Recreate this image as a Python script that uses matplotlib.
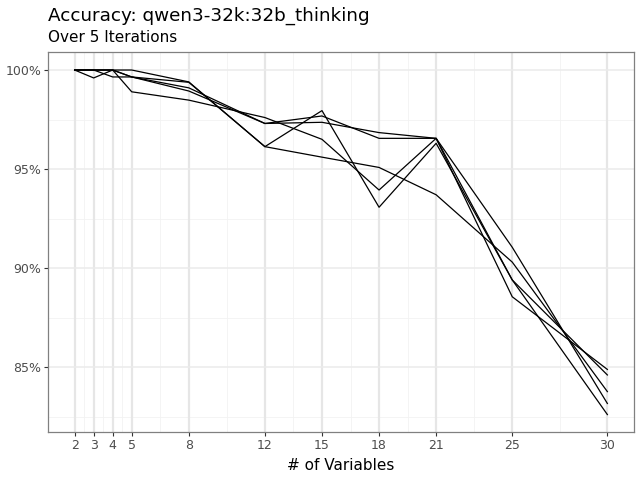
import matplotlib
matplotlib.use("Agg")
import matplotlib.pyplot as plt
from matplotlib.ticker import FixedLocator, FuncFormatter

variables = [2, 3, 4, 5, 8, 12, 15, 18, 21, 25, 30]

# accuracy (%) per iteration
iter_1 = [100, 100, 100, 100, 99.40, 96.13, 97.95, 93.07, 96.30, 89.40, 82.60]
iter_2 = [100, 99.60, 100, 99.65, 99.38, 96.13, 95.60, 95.08, 93.70, 90.30, 83.76]
iter_3 = [100, 100, 99.65, 99.65, 99.10, 97.30, 97.68, 96.55, 96.55, 91.05, 83.16]
iter_4 = [100, 100, 100, 99.65, 98.94, 97.30, 97.36, 96.84, 96.55, 89.40, 84.60]
iter_5 = [100, 100, 100, 98.90, 98.48, 97.60, 96.50, 93.94, 96.55, 88.55, 84.88]

series = [iter_1, iter_2, iter_3, iter_4, iter_5]

x_breaks = [2, 3, 4, 5, 8, 12, 15, 18, 21, 25, 30]
y_breaks = [85, 90, 95, 100]

fig = plt.figure(figsize=(6.4, 4.8), dpi=100)
ax = fig.add_axes([48/640, 48/480, 586/640, 380/480])

for s in series:
    ax.plot(variables, s, color="black", lw=0.9, zorder=3)

ax.set_xlim(0.6, 31.4)
ax.set_ylim(81.72, 100.91)

# grid
minor_x = [(a + b) / 2 for a, b in zip(x_breaks[:-1], x_breaks[1:])]
minor_y = [(a + b) / 2 for a, b in zip(y_breaks[:-1], y_breaks[1:])] + [82.5]
for xv in minor_x:
    ax.axvline(xv, color="#F2F2F2", lw=0.6, zorder=1)
for yv in minor_y:
    ax.axhline(yv, color="#F2F2F2", lw=0.6, zorder=1)
for xv in x_breaks:
    ax.axvline(xv, color="#E6E6E6", lw=1.6, zorder=1)
for yv in y_breaks:
    ax.axhline(yv, color="#EBEBEB", lw=1.1, zorder=1)

ax.xaxis.set_major_locator(FixedLocator(x_breaks))
ax.yaxis.set_major_locator(FixedLocator(y_breaks))
ax.yaxis.set_major_formatter(FuncFormatter(lambda v, p: f"{v:.0f}%"))
ax.tick_params(axis="both", length=3, width=0.8, color="#333333",
               labelcolor="#4D4D4D", labelsize=9, pad=2)

for sp in ax.spines.values():
    sp.set_color("#808080")
    sp.set_linewidth(0.9)

ax.set_xlabel("# of Variables", fontsize=11, color="black", labelpad=4)

fig.text(48/640, 1 - 16/480, "Accuracy: qwen3-32k:32b_thinking", fontsize=13.2,
         ha="left", va="center")
fig.text(48/640, 1 - 38/480, "Over 5 Iterations", fontsize=11,
         ha="left", va="center")

fig.savefig("out.png", dpi=100)
